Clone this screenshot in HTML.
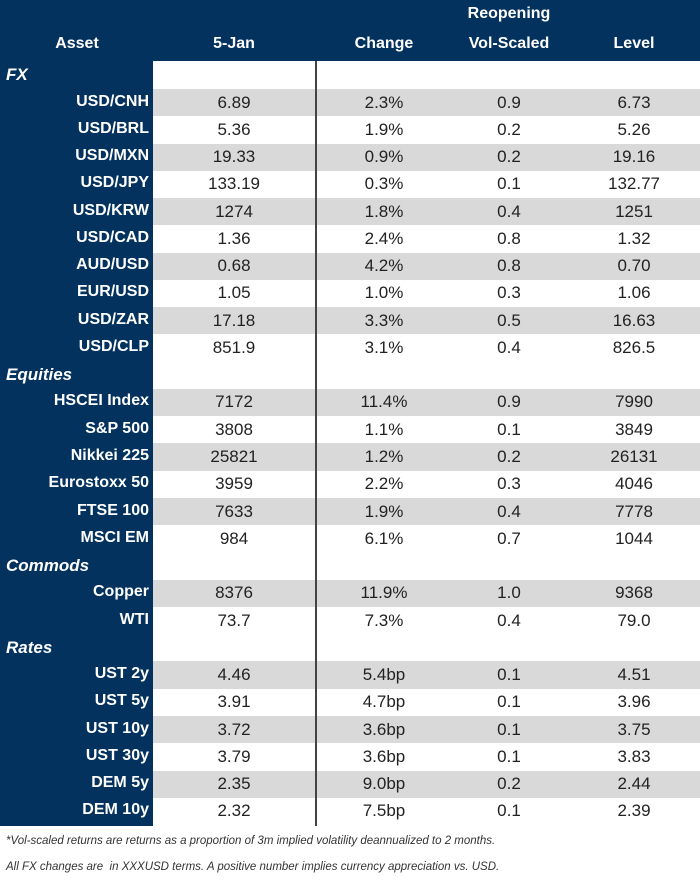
<!DOCTYPE html>
<html><head><meta charset="utf-8">
<style>
*{margin:0;padding:0;box-sizing:border-box}
body{width:700px;height:881px;background:#fff;position:relative;overflow:hidden;font-family:"Liberation Sans",Arial,sans-serif}
.hdr{position:absolute;left:0;top:0;width:700px;height:61px;background:#03325e}
.left{position:absolute;left:0;top:61px;width:153px;height:765px;background:#03325e}
.h{position:absolute;color:#fff;font-weight:bold;font-size:16px;text-align:center;width:130px;margin-left:-65px}
.row{position:absolute;left:153px;width:547px}
.g{background:#d9d9d9}
.lbl{position:absolute;color:#fff;font-weight:bold;font-size:16px;right:551px;white-space:nowrap}
.cat{position:absolute;left:6px;color:#fff;font-weight:bold;font-style:italic;font-size:17px}
.c{position:absolute;font-size:17px;color:#222;text-align:center;width:120px;margin-left:-60px}
.vline{position:absolute;left:315px;top:61px;width:2px;height:765px;background:#444}
.fn{position:absolute;left:6px;font-size:11.5px;font-style:italic;color:#333;white-space:nowrap}
</style></head><body>
<div class="hdr"></div>
<div class="left"></div>
<div class="h" style="left:77px;top:35px">Asset</div>
<div class="h" style="left:234px;top:35px">5-Jan</div>
<div class="h" style="left:384px;top:35px">Change</div>
<div class="h" style="left:509px;top:5px">Reopening</div>
<div class="h" style="left:509px;top:35px">Vol-Scaled</div>
<div class="h" style="left:634px;top:35px">Level</div>
<div id="rows"></div>
<div class="vline"></div>
<div class="fn" style="top:835px">*Vol-scaled returns are returns as a proportion of 3m implied volatility deannualized to 2 months.</div>
<div class="fn" style="top:861px">All FX changes are&nbsp; in XXXUSD terms. A positive number implies currency appreciation vs. USD.</div>
<script>
const assets=["FX","USD/CNH","USD/BRL","USD/MXN","USD/JPY","USD/KRW","USD/CAD","AUD/USD","EUR/USD","USD/ZAR","USD/CLP","Equities","HSCEI Index","S&P 500","Nikkei 225","Eurostoxx 50","FTSE 100","MSCI EM","Commods","Copper","WTI","Rates","UST 2y","UST 5y","UST 10y","UST 30y","DEM 5y","DEM 10y"];
const jan5=["","6.89","5.36","19.33","133.19","1274","1.36","0.68","1.05","17.18","851.9","","7172","3808","25821","3959","7633","984","","8376","73.7","","4.46","3.91","3.72","3.79","2.35","2.32"];
const change=["","2.3%","1.9%","0.9%","0.3%","1.8%","2.4%","4.2%","1.0%","3.3%","3.1%","","11.4%","1.1%","1.2%","2.2%","1.9%","6.1%","","11.9%","7.3%","","5.4bp","4.7bp","3.6bp","3.6bp","9.0bp","7.5bp"];
const volScaled=["","0.9","0.2","0.2","0.1","0.4","0.8","0.8","0.3","0.5","0.4","","0.9","0.1","0.2","0.3","0.4","0.7","","1.0","0.4","","0.1","0.1","0.1","0.1","0.2","0.1"];
const level=["","6.73","5.26","19.16","132.77","1251","1.32","0.70","1.06","16.63","826.5","","7990","3849","26131","4046","7778","1044","","9368","79.0","","4.51","3.96","3.75","3.83","2.44","2.39"];
const cats=["FX","Equities","Commods","Rates"];
const root=document.getElementById('rows');
const rowH=27.26;
let alt=0;
assets.forEach((a,i)=>{
  const top=i===0?61:89+(i-1)*rowH;
  const h=i===0?28:rowH;
  const isCat=cats.includes(a);
  const r=document.createElement('div');
  r.className='row';
  r.style.top=top+'px';r.style.height=h+'px';
  if(isCat){alt=0;}else{if(alt%2===0)r.classList.add('g');alt++;}
  
  
  root.appendChild(r);
  const l=document.createElement('div');
  l.className=isCat?'cat':'lbl';
  l.style.top=(top+h/2-10)+'px';
  l.textContent=a;
  
  
  root.appendChild(l);
  if(isCat)return;
  [[jan5,234,'value-5-jan'],[change,384,'value-change'],[volScaled,509,'value-vol-scaled'],[level,634,'value-level']].forEach(([arr,x,n])=>{
    const c=document.createElement('div');
    c.className='c';
    c.style.left=x+'px';c.style.top=(top+h/2-10)+'px';
    c.textContent=arr[i];
    
    
    root.appendChild(c);
  });
});
</script>
</body></html>
